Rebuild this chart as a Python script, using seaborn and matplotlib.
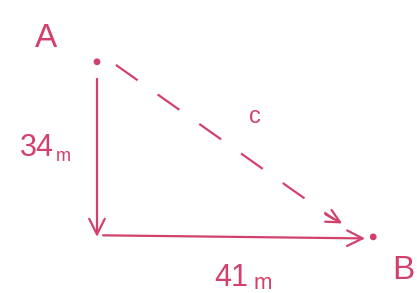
import matplotlib
matplotlib.use("Agg")
import matplotlib.pyplot as plt
import pandas as pd
import seaborn as sns

# positions in metres: A sits above the corner, B to the right of it
names = ["A", "corner", "B"]
xs = [0, 0, 41]
ys = [34, 0, 0]
leg_labels = ["34", "41", "c"]

pts = pd.DataFrame({"name": names, "x": xs, "y": ys})
ink = "#d2416c"

sns.set_theme(style="white")
plt.rcParams["font.family"] = ["Liberation Sans", "DejaVu Sans"]

fig = plt.figure(figsize=(4.17, 2.93), dpi=100)
ax = fig.add_axes([0, 0, 1, 1])
ax.set_xlim(-14.4, 47.5)
ax.set_ylim(-10.9, 46.0)
ax.axis("off")

ends = pts[pts["name"].isin(["A", "B"])]
sns.scatterplot(data=ends, x="x", y="y", color=ink, s=24, edgecolor="none", ax=ax, legend=False)

A = (xs[0], ys[0])
C = (xs[1], ys[1])
B = (xs[2], ys[2])

arrow = dict(arrowstyle="->", color=ink, lw=1.6, mutation_scale=28, shrinkA=0, shrinkB=0)
# vertical leg A -> corner
ax.annotate("", xy=(C[0], C[1]), xytext=(A[0], A[1] - 3.3), arrowprops=arrow)
# horizontal leg corner -> B
ax.annotate("", xy=(B[0] - 1.2, B[1] - 0.3), xytext=(C[0] + 0.9, C[1] + 0.3), arrowprops=arrow)

# dashed hypotenuse A -> B, with a solid head
x0, y0 = A[0] + 2.8, A[1] - 0.6
x1, y1 = B[0] - 4.6, B[1] + 2.6
sns.lineplot(x=[x0, x1 - 1.2], y=[y0, y1 + 0.8], color=ink, lw=1.6, ax=ax,
             dashes=False, linestyle=(0, (12, 11)))
ax.annotate("", xy=(x1, y1), xytext=(x1 - 2.5, y1 + 1.8),
            arrowprops=dict(arrowstyle="->", color=ink, lw=1.6, mutation_scale=24,
                            shrinkA=0, shrinkB=0))

ax.text(-7.5, 38.5, "A", color=ink, fontsize=24, ha="center", va="center")
ax.text(45.5, -6.5, "B", color=ink, fontsize=24, ha="center", va="center")
ax.text(-9.0, 17.3, leg_labels[0], color=ink, fontsize=22, ha="center", va="center")
ax.text(-5.0, 15.6, "m", color=ink, fontsize=13, ha="center", va="center")
ax.text(20.0, -8.0, leg_labels[1], color=ink, fontsize=22, ha="center", va="center")
ax.text(24.6, -9.0, "m", color=ink, fontsize=16, ha="center", va="center")
ax.text(23.5, 23.3, leg_labels[2], color=ink, fontsize=17, ha="center", va="center")

fig.savefig("out.png", dpi=100, facecolor="white")
